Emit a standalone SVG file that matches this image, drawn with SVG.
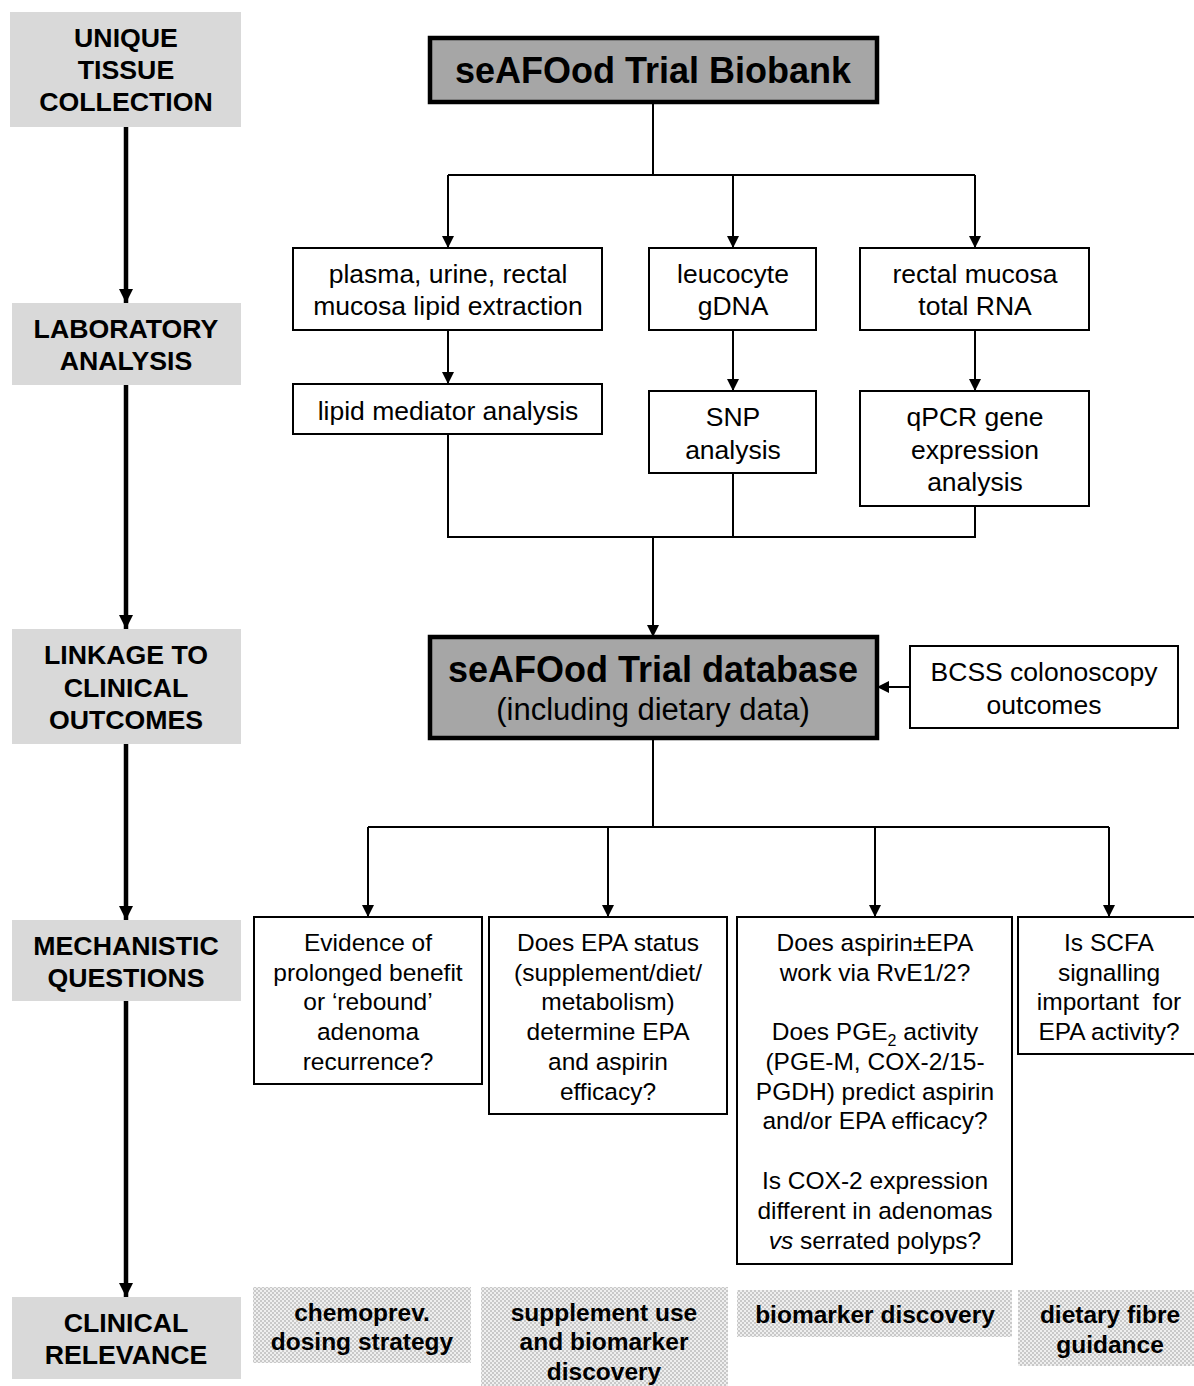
<svg xmlns="http://www.w3.org/2000/svg" width="1194" height="1386" viewBox="0 0 1194 1386">
<defs>
<marker id="arr" markerUnits="userSpaceOnUse" markerWidth="14" markerHeight="14" refX="12" refY="6" orient="auto"><path d="M0,0 L12,6 L0,12 z" fill="#000"/></marker>
<marker id="arrL" markerUnits="userSpaceOnUse" markerWidth="16" markerHeight="16" refX="14" refY="7" orient="auto"><path d="M0,0 L14,7 L0,14 z" fill="#000"/></marker>
<pattern id="chk" width="4" height="4" patternUnits="userSpaceOnUse"><rect width="4" height="4" fill="#efefef"/><rect width="2" height="2" fill="#c9c9c9"/><rect x="2" y="2" width="2" height="2" fill="#c9c9c9"/></pattern>
<style>
.stage rect{fill:#d9d9d9;stroke:none}
.stage text{font-family:"Liberation Sans",Arial,sans-serif;font-weight:bold;font-size:26.7px;text-anchor:middle;fill:#000}
.box rect{fill:#fff;stroke:#000;stroke-width:2}
.box text{font-family:"Liberation Sans",Arial,sans-serif;font-size:26.5px;text-anchor:middle;fill:#000}
.main rect{fill:#a6a6a6;stroke:#000;stroke-width:4.5}
.main text{font-family:"Liberation Sans",Arial,sans-serif;text-anchor:middle;fill:#000}
.q rect{fill:#fff;stroke:#000;stroke-width:2}
.q text{font-family:"Liberation Sans",Arial,sans-serif;font-size:24.5px;text-anchor:middle;fill:#000}
.tx rect{fill:url(#chk);stroke:none}
.tx text{font-family:"Liberation Sans",Arial,sans-serif;font-weight:bold;font-size:24.5px;text-anchor:middle;fill:#000}
.conn path{fill:none;stroke:#000;stroke-width:2}
.conn path.thick{stroke-width:4.5}
</style>
</defs>
<rect width="1194" height="1386" fill="#fff"/>

<g id="stage-unique" class="stage"><rect x="10" y="12" width="231" height="115"/><text x="126" y="47">UNIQUE</text><text x="126" y="79">TISSUE</text><text x="126" y="111">COLLECTION</text></g>
<g id="stage-lab" class="stage"><rect x="12" y="303" width="229" height="82"/><text x="126" y="338">LABORATORY</text><text x="126" y="370">ANALYSIS</text></g>
<g id="stage-linkage" class="stage"><rect x="12" y="629" width="229" height="115"/><text x="126" y="664">LINKAGE TO</text><text x="126" y="697">CLINICAL</text><text x="126" y="729">OUTCOMES</text></g>
<g id="stage-mech" class="stage"><rect x="12" y="920" width="229" height="81"/><text x="126" y="955">MECHANISTIC</text><text x="126" y="987">QUESTIONS</text></g>
<g id="stage-clin" class="stage"><rect x="12" y="1297" width="229" height="82"/><text x="126" y="1332">CLINICAL</text><text x="126" y="1364">RELEVANCE</text></g>

<g id="biobank" class="main"><rect x="430" y="38" width="447" height="64"/><text x="653" y="83" font-size="36" font-weight="bold">seAFOod Trial Biobank</text></g>

<g id="lipid-extraction" class="box"><rect x="293" y="248" width="309" height="82"/><text x="448" y="283">plasma, urine, rectal</text><text x="448" y="315">mucosa lipid extraction</text></g>
<g id="gdna" class="box"><rect x="649" y="248" width="167" height="82"/><text x="733" y="283">leucocyte</text><text x="733" y="315">gDNA</text></g>
<g id="rna" class="box"><rect x="860" y="248" width="229" height="82"/><text x="975" y="283">rectal mucosa</text><text x="975" y="315">total RNA</text></g>

<g id="lipid-mediator" class="box"><rect x="293" y="384" width="309" height="50"/><text x="448" y="420">lipid mediator analysis</text></g>
<g id="snp" class="box"><rect x="649" y="391" width="167" height="82"/><text x="733" y="426">SNP</text><text x="733" y="459">analysis</text></g>
<g id="qpcr" class="box"><rect x="860" y="391" width="229" height="115"/><text x="975" y="426">qPCR gene</text><text x="975" y="459">expression</text><text x="975" y="491">analysis</text></g>

<g id="database" class="main"><rect x="430" y="637" width="447" height="101"/><text x="653" y="682" font-size="36" font-weight="bold">seAFOod Trial database</text><text x="653" y="720" font-size="31">(including dietary data)</text></g>
<g id="bcss" class="box"><rect x="910" y="646" width="268" height="82"/><text x="1044" y="681">BCSS colonoscopy</text><text x="1044" y="714">outcomes</text></g>

<g id="q1" class="q"><rect x="254" y="917" width="228" height="167"/><text x="368" y="951">Evidence of</text><text x="368" y="981">prolonged benefit</text><text x="368" y="1010">or ‘rebound’</text><text x="368" y="1040">adenoma</text><text x="368" y="1070">recurrence?</text></g>
<g id="q2" class="q"><rect x="489" y="917" width="238" height="197"/><text x="608" y="951">Does EPA status</text><text x="608" y="981">(supplement/diet/</text><text x="608" y="1010">metabolism)</text><text x="608" y="1040">determine EPA</text><text x="608" y="1070">and aspirin</text><text x="608" y="1100">efficacy?</text></g>
<g id="q3" class="q"><rect x="737" y="917" width="275" height="347"/><text x="875" y="951">Does aspirin±EPA</text><text x="875" y="981">work via RvE1/2?</text><text x="875" y="1040">Does PGE<tspan font-size="16" dy="6">2</tspan><tspan dy="-6"> activity</tspan></text><text x="875" y="1070">(PGE-M, COX-2/15-</text><text x="875" y="1100">PGDH) predict aspirin</text><text x="875" y="1129">and/or EPA efficacy?</text><text x="875" y="1189">Is COX-2 expression</text><text x="875" y="1219">different in adenomas</text><text x="875" y="1249"><tspan font-style="italic">vs</tspan> serrated polyps?</text></g>
<g id="q4" class="q"><rect x="1018" y="917" width="178" height="137"/><text x="1109" y="951">Is SCFA</text><text x="1109" y="981">signalling</text><text x="1109" y="1010" xml:space="preserve">important  for</text><text x="1109" y="1040">EPA activity?</text></g>

<g id="r1" class="tx"><rect x="253" y="1287" width="218" height="76"/><text x="362" y="1321">chemoprev.</text><text x="362" y="1350">dosing strategy</text></g>
<g id="r2" class="tx"><rect x="481" y="1287" width="247" height="99"/><text x="604" y="1321">supplement use</text><text x="604" y="1350">and biomarker</text><text x="604" y="1380">discovery</text></g>
<g id="r3" class="tx"><rect x="737" y="1290" width="275" height="47"/><text x="875" y="1323">biomarker discovery</text></g>
<g id="r4" class="tx"><rect x="1018" y="1290" width="176" height="76"/><text x="1110" y="1323">dietary fibre</text><text x="1110" y="1353">guidance</text></g>

<g id="connectors" class="conn">
<path class="thick" d="M126,127 V303" marker-end="url(#arrL)"/>
<path class="thick" d="M126,385 V629" marker-end="url(#arrL)"/>
<path class="thick" d="M126,744 V920" marker-end="url(#arrL)"/>
<path class="thick" d="M126,1001 V1297" marker-end="url(#arrL)"/>
<path d="M653,102 V175 M448,175 H975"/>
<path d="M448,175 V248" marker-end="url(#arr)"/>
<path d="M733,175 V248" marker-end="url(#arr)"/>
<path d="M975,175 V248" marker-end="url(#arr)"/>
<path d="M448,330 V384" marker-end="url(#arr)"/>
<path d="M733,330 V391" marker-end="url(#arr)"/>
<path d="M975,330 V391" marker-end="url(#arr)"/>
<path d="M448,434 V537 H975 V506 M733,473 V537"/>
<path d="M653,537 V637" marker-end="url(#arr)"/>
<path d="M910,687 H877" marker-end="url(#arr)"/>
<path d="M653,738 V827 M368,827 H1109"/>
<path d="M368,827 V917" marker-end="url(#arr)"/>
<path d="M608,827 V917" marker-end="url(#arr)"/>
<path d="M875,827 V917" marker-end="url(#arr)"/>
<path d="M1109,827 V917" marker-end="url(#arr)"/>
</g>
</svg>
